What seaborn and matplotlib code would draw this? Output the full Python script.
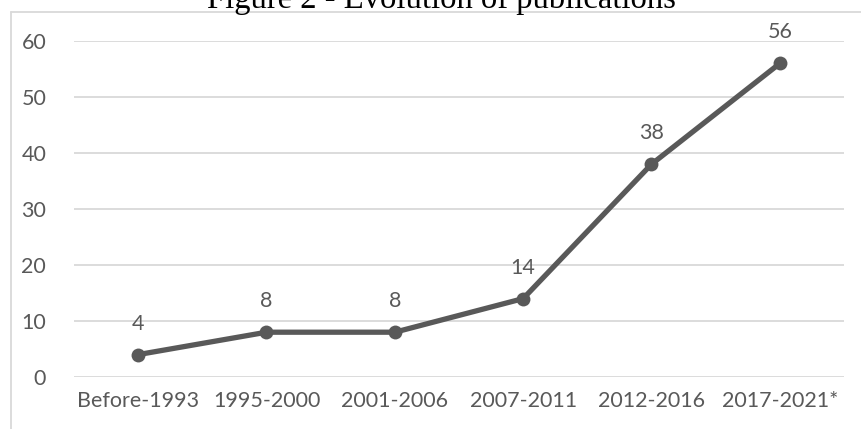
import matplotlib
matplotlib.use("Agg")
import matplotlib.pyplot as plt
import seaborn as sns
import pandas as pd
from matplotlib.lines import Line2D

periods = ["Before-1993", "1995-2000", "2001-2006", "2007-2011", "2012-2016", "2017-2021*"]
publications = [4, 8, 8, 14, 38, 56]
y_ticks = [0, 10, 20, 30, 40, 50, 60]

df = pd.DataFrame({"period": periods, "publications": publications})

sns.set_theme(style="white")
plt.rcParams["font.family"] = ["Lato", "DejaVu Sans"]

W, H = 862, 429
fig = plt.figure(figsize=(W / 100, H / 100), dpi=100)
ax = fig.add_axes([74 / W, 1 - 377 / H, (844 - 74) / W, (377 - 41) / H])

text_grey = "#595959"
line_grey = "#595959"
grid_grey = "#d9d9d9"

sns.lineplot(data=df, x="period", y="publications", ax=ax, sort=False,
             color=line_grey, linewidth=3.8, marker="o", markersize=10,
             markeredgewidth=0, markerfacecolor=line_grey)

ax.set_xlim(-0.5, len(periods) - 0.5)
ax.set_ylim(0, 60)
ax.set_yticks(y_ticks)
ax.yaxis.grid(True, color=grid_grey, linewidth=1.3)
ax.set_axisbelow(True)
for s in ax.spines.values():
    s.set_visible(False)
ax.tick_params(axis="both", length=0, colors=text_grey, labelsize=15.5)
ax.tick_params(axis="y", pad=20)
ax.tick_params(axis="x", pad=10)
ax.set_xlabel("")
ax.set_ylabel("")

for i, v in enumerate(publications):
    ax.annotate(str(v), (i, v), xytext=(0, 18), textcoords="offset points",
                ha="center", va="baseline", fontsize=15.5, color=text_grey)

# chart frame (left and top edges)
fig.add_artist(Line2D([11 / W, 11 / W], [0, 1 - 12 / H], transform=fig.transFigure,
                      color=grid_grey, linewidth=1.3))
fig.add_artist(Line2D([11 / W, 1], [1 - 12 / H, 1 - 12 / H], transform=fig.transFigure,
                      color=grid_grey, linewidth=1.3))

fig.text(441 / W, 1 - 8 / H, "Figure 2 - Evolution of publications", ha="center",
         va="baseline", fontsize=23.5, family=["Liberation Serif", "DejaVu Serif"],
         color="black")

fig.savefig("out.png", dpi=100)
